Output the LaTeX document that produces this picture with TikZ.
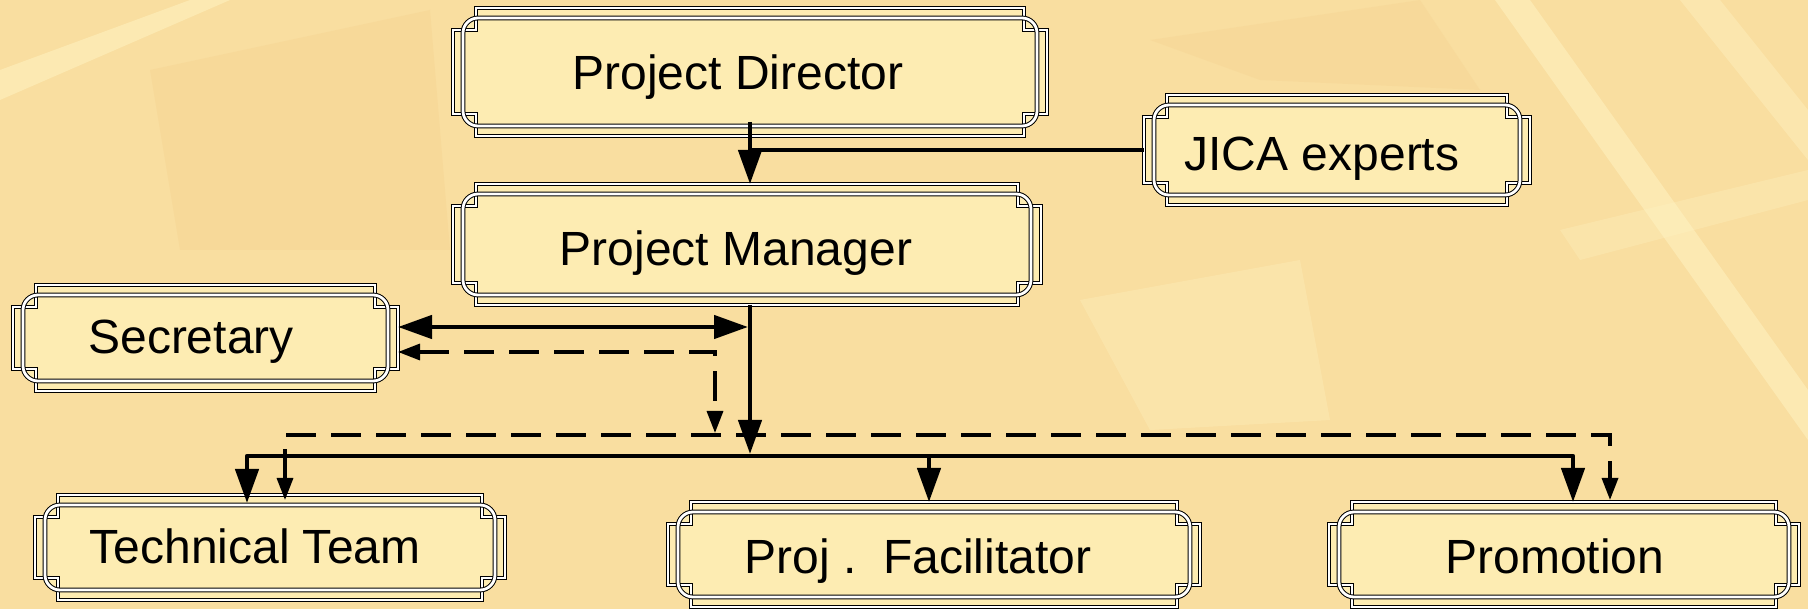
\documentclass[tikz,border=0pt]{standalone}
\usepackage{fontspec}
\setmainfont{Liberation Sans}
\usetikzlibrary{arrows.meta,calc}
\definecolor{bg}{RGB}{249,222,160}
\definecolor{bglight}{RGB}{255,244,196}
\definecolor{bgdark}{RGB}{244,206,138}
\definecolor{boxfill}{RGB}{253,236,178}
\tikzset{
 boxn/.style={rectangle, inner sep=0pt, outer sep=0pt},
 lbl/.style={anchor=base, inner sep=0pt, font=\fontsize{48}{50}\selectfont},
 framel/.style={line width=1pt, double=white, double distance=2.8pt, draw=black},
 conn/.style={line width=4.5pt, draw=black, line join=round},
 dconn/.style={line width=3.3pt, draw=black, dash pattern=on 30pt off 15pt},
 bigtip/.tip={Triangle[length=34pt,width=23pt]},
 smalltip/.tip={Triangle[length=22pt,width=16pt]},
}
\newcommand\fancyframe[2][22]{%
 \fill[boxfill] let \p1=(#2.south west), \p2=(#2.north east) in
   (\x1+23pt,\y2) -- (\x2-23pt,\y2) -- (\x2-23pt,\y2-#1pt) -- (\x2,\y2-#1pt) -- (\x2,\y1+#1pt) -- (\x2-23pt,\y1+#1pt) -- (\x2-23pt,\y1) -- (\x1+23pt,\y1) -- (\x1+23pt,\y1+#1pt) -- (\x1,\y1+#1pt) -- (\x1,\y2-#1pt) -- (\x1+23pt,\y2-#1pt) -- cycle
   [rounded corners=15pt] (\x1+10pt,\y1+10pt) rectangle (\x2-10pt,\y2-10pt);
 \draw[framel] let \p1=(#2.south west), \p2=(#2.north east) in
   (\x1+23pt,\y2) -- (\x2-23pt,\y2) -- (\x2-23pt,\y2-#1pt) -- (\x2,\y2-#1pt) -- (\x2,\y1+#1pt) -- (\x2-23pt,\y1+#1pt) -- (\x2-23pt,\y1) -- (\x1+23pt,\y1) -- (\x1+23pt,\y1+#1pt) -- (\x1,\y1+#1pt) -- (\x1,\y2-#1pt) -- (\x1+23pt,\y2-#1pt) -- cycle;
 \draw[framel, rounded corners=15pt] let \p1=(#2.south west), \p2=(#2.north east) in
   (\x1+10pt,\y1+10pt) rectangle (\x2-10pt,\y2-10pt);
}
\begin{document}
\begin{tikzpicture}[x=1pt,y=-1pt]
\useasboundingbox (0,0) rectangle (1808,609);
\fill[bg] (0,0) rectangle (1808,609);
% background texture
\fill[bgdark,opacity=.3] (150,70) -- (430,10) -- (450,250) -- (180,250) -- cycle;
\fill[bgdark,opacity=.25] (1150,40) -- (1420,0) -- (1480,90) -- (1260,80) -- cycle;
\fill[bglight,opacity=.5] (0,70) -- (190,0) -- (230,0) -- (0,100) -- cycle;
\fill[bglight,opacity=.5] (1495,0) -- (1530,0) -- (1808,390) -- (1808,440) -- cycle;
\fill[bglight,opacity=.4] (1680,0) -- (1720,0) -- (1808,110) -- (1808,160) -- cycle;
\fill[bglight,opacity=.3] (1560,230) -- (1808,170) -- (1808,200) -- (1580,260) -- cycle;
\fill[bglight,opacity=.3] (1080,300) -- (1300,260) -- (1330,420) -- (1150,430) -- cycle;

% boxes
\node[boxn, minimum width=594pt, minimum height=128pt] (pd) at (750,72) {};
\node[boxn, minimum width=386pt, minimum height=110pt] (jica) at (1337,150) {};
\node[boxn, minimum width=588pt, minimum height=121pt] (pm) at (747,244.5) {};
\node[boxn, minimum width=385pt, minimum height=106pt] (sec) at (205.5,338) {};
\node[boxn, minimum width=470pt, minimum height=105pt] (tt) at (270,547.5) {};
\node[boxn, minimum width=532pt, minimum height=105pt] (pf) at (934,554.5) {};
\node[boxn, minimum width=470pt, minimum height=105pt] (pr) at (1564,554.5) {};
\fancyframe{pd}
\fancyframe{jica}
\fancyframe{pm}
\fancyframe{sec}
\fancyframe{tt}
\fancyframe{pf}
\fancyframe{pr}

% labels
\node[lbl] (pdt) at (738,90) {Project Director};
\node[lbl] (jicat) at (1322,171) {JICA experts};
\node[lbl] (pmt) at (736,266) {Project Manager};
\node[lbl] (sect) at (191,354) {Secretary};
\node[lbl] (ttt) at (255,563) {Technical Team};
\node[lbl] (pft) at (918,573) {Proj~.~~Facilitator};
\node[lbl] (prt) at (1555,573) {Promotion};

% connector coordinates
\coordinate (hub) at (750,456);
\coordinate (sa) at (748,327);
\coordinate (sd) at (715,352);
\coordinate (sdend) at (715,433);
\coordinate (dl1) at (285,435);
\coordinate (dl2) at (1610,435);
\coordinate (sl1) at (247,456);
\coordinate (sl2) at (1573,456);
\coordinate (sl3) at (929,456);

% connectors
\draw[conn,-bigtip] ($(pd.south)+(0,-14)$) -- (pd.south |- pm.north);
\draw[conn] (jica.west) -- (jica.west -| pd.south);
\draw[conn,-bigtip] (pm.south -| hub) -- ($(hub)+(0,-2)$);
\draw[conn,bigtip-bigtip] (sec.east |- sa) -- (sa);
\draw[dconn,smalltip-smalltip] (sec.east |- sd) -- (sd) -- (sdend);
\draw[dconn,smalltip-smalltip] ($(dl1 |- tt.north)+(0,5)$) -- (dl1) -- (dl2) -- ($(dl2 |- pr.north)+(0,-2)$);
\draw[conn,bigtip-bigtip] ($(sl1 |- tt.north)+(0,8)$) -- (sl1) -- (sl2) -- (sl2 |- pr.north);
\draw[conn,-bigtip] (sl3) -- (sl3 |- pf.north);
\end{tikzpicture}
\end{document}
